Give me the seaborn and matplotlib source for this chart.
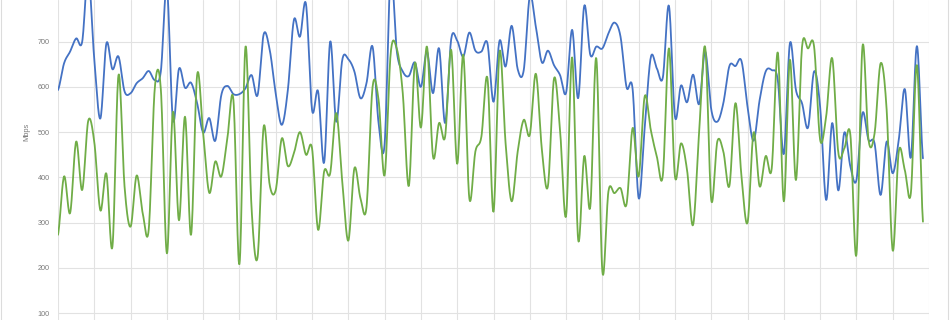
import numpy as np
import pandas as pd
import matplotlib
matplotlib.use("Agg")
import matplotlib.pyplot as plt
import seaborn as sns
from matplotlib.patches import Rectangle

# ---- data ----
blue = [593, 652, 678, 707, 700, 850, 660, 530, 696, 639, 667, 590, 586, 608, 619, 635, 615, 634, 820,
        527, 640, 598, 609, 564, 499, 531, 481, 582, 602, 584, 584, 597, 626, 582, 716, 682, 585,
        516, 593, 748, 711, 783, 549, 590, 433, 700, 523, 660, 661, 634, 575, 608, 689, 520, 474,
        850, 680, 634, 624, 654, 600, 678, 586, 685, 520, 705, 702, 667, 720, 680, 678, 696, 567,
        702, 645, 735, 639, 637, 800, 733, 654, 680, 648, 626, 587, 726, 575, 779, 671, 689, 685,
        718, 742, 711, 599, 595, 354, 510, 665, 641, 621, 779, 534, 603, 566, 627, 562, 678, 550, 523,
        564, 646, 646, 657, 556, 481, 571, 634, 637, 615, 452, 696, 593, 564, 510, 634, 556, 350,
        520, 371, 499, 424, 394, 542, 483, 475, 361, 479, 409, 483, 595, 444, 690, 442]

green = [273, 402, 321, 479, 372, 525, 478, 327, 408, 247, 626, 380, 291, 404, 321, 285, 597, 595, 232,
         545, 305, 534, 273, 626, 497, 366, 435, 402, 486, 571, 208, 689, 332, 224, 512, 383, 372,
         486, 425, 453, 500, 450, 464, 284, 413, 409, 542, 390, 260, 420, 354, 334, 599, 571, 405,
         674, 685, 586, 381, 652, 510, 689, 446, 520, 490, 682, 430, 671, 354, 457, 490, 619, 324,
         678, 475, 347, 457, 527, 494, 629, 461, 381, 618, 505, 315, 665, 262, 447, 335, 663, 192,
         369, 365, 376, 341, 509, 402, 579, 505, 446, 405, 685, 402, 475, 416, 295, 501, 687, 350, 479,
         457, 381, 564, 402, 300, 499, 380, 447, 420, 676, 347, 660, 394, 687, 685, 689, 483, 535,
         663, 455, 464, 494, 229, 689, 483, 497, 652, 549, 238, 457, 416, 365, 648, 302]

y_ticks = [100, 200, 300, 400, 500, 600, 700]
y_label = "Mbps"
series_names = ["Series A", "Series B"]
colors = {"Series A": "#4472C4", "Series B": "#70AD47"}


def smooth(vals, n=16):
    """Excel-style smoothed line: cubic Bezier through each point."""
    p = np.asarray(vals, float)
    pad = np.concatenate([[p[0]], p, [p[-1]]])
    xs, ys = [], []
    t = np.linspace(0, 1, n, endpoint=False)
    for i in range(len(p) - 1):
        p0, p1, p2, p3 = pad[i], pad[i + 1], pad[i + 2], pad[i + 3]
        c1 = p1 + (p2 - p0) / 6.0
        c2 = p2 - (p3 - p1) / 6.0
        y = (1 - t) ** 3 * p1 + 3 * (1 - t) ** 2 * t * c1 + 3 * (1 - t) * t ** 2 * c2 + t ** 3 * p2
        xs.append(i + t)
        ys.append(y)
    xs.append([len(p) - 1])
    ys.append([p[-1]])
    return np.concatenate(xs), np.concatenate(ys)


frames = []
for name, vals in zip(series_names, [blue, green]):
    sx, sy = smooth(vals)
    frames.append(pd.DataFrame({"x": sx, "y": sy, "series": name}))
df = pd.concat(frames, ignore_index=True)

sns.set_theme(style="white")
plt.rcParams["font.family"] = ["Liberation Sans", "DejaVu Sans"]

fig = plt.figure(figsize=(9.5, 3.2), dpi=100)
ax = fig.add_axes([58 / 950, 0, (929 - 58) / 950, 1])

sns.lineplot(data=df, x="x", y="y", hue="series", palette=colors, sort=False,
             estimator=None, legend=False, linewidth=1.3, ax=ax)

ax.set_xlim(0, 144)
ax.set_ylim(84.6, 792)
ax.set_yticks(y_ticks)
ax.set_yticklabels([str(v) for v in y_ticks])
ax.set_xticks(np.arange(0, 145, 6))
ax.tick_params(axis="x", labelbottom=False, length=0)
ax.tick_params(axis="y", length=0, pad=6, labelsize=5.2, labelcolor="#7a7a7a")
ax.grid(True, color="#e2e2e2", linewidth=0.8)
ax.set_axisbelow(True)
for s in ax.spines.values():
    s.set_visible(False)
ax.set_xlabel("")
ax.set_ylabel("")
fig.text(27 / 950, 1 - 132 / 320, y_label, rotation=90, ha="center", va="center",
         fontsize=5.3, color="#7a7a7a")

fig.patches.append(Rectangle((1 / 950, -0.05), 947 / 950, 1.1, transform=fig.transFigure,
                             fill=False, edgecolor="#dcdcdc", linewidth=0.8))

fig.savefig("out.png", dpi=100)
